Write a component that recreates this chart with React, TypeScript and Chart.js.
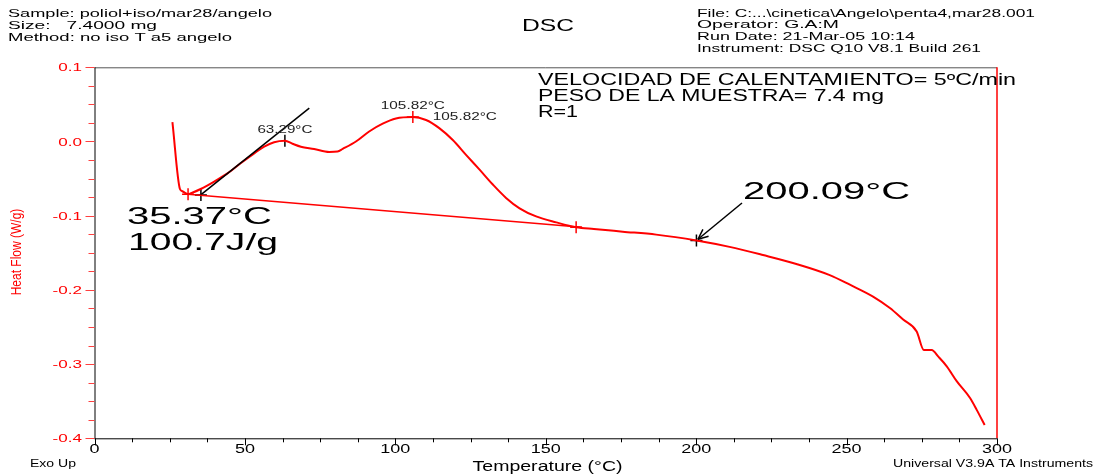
import React, { useEffect, useRef } from "react";
import { Chart, registerables } from "chart.js";

Chart.register(...registerables);

// DSC heating scan: temperature (°C) vs heat flow (W/g)
const temperature = [
  25.9, 28.4, 29.2, 31.1, 32.5, 35.3, 39.8, 44.2, 48.7, 53.1, 56.4, 59.7, 63.3,
  65.8, 68.6, 73.0, 78.0, 80.8, 82.5, 86.9, 91.3, 95.8, 100.2, 105.8, 110.2,
  114.6, 119.1, 123.5, 128.0, 132.4, 136.8, 141.3, 146.8, 153.5, 160.1, 166.0,
  175.6, 186.7, 200.1, 211.1, 222.2, 233.3, 244.4, 251.1, 258.8, 264.4, 268.8,
  273.3, 275.7, 278.3, 280.5, 283.3, 286.6, 291.1, 293.3, 295.9,
];
const heatFlow = [
  0.026, -0.064, -0.067, -0.071, -0.069, -0.064, -0.054, -0.043, -0.029,
  -0.016, -0.007, -0.001, 0.001, -0.003, -0.007, -0.01, -0.014, -0.0135,
  -0.01, 0.0, 0.0135, 0.024, 0.031, 0.033, 0.029, 0.018, 0.002, -0.018,
  -0.038, -0.058, -0.076, -0.09, -0.101, -0.109, -0.1155, -0.118, -0.1215,
  -0.1255, -0.1334, -0.142, -0.153, -0.165, -0.18, -0.193, -0.209, -0.2245,
  -0.24, -0.256, -0.281, -0.281, -0.29, -0.303, -0.323, -0.346, -0.362, -0.382,
];

// Integration baseline (start, end) and onset tangent
const baselineT = [31.1, 162.0];
const baselineHF = [-0.071, -0.1157];
const tangentT = [35.3, 71.4];
const tangentHF = [-0.072, 0.045];

// Analysis marks
const onsetT = 35.37;
const onsetHF = -0.072;
const shoulderT = 63.29;
const shoulderHF = 0.001;
const peakT = 105.82;
const peakHF = 0.033;
const baselineEndT = 160.1;
const baselineEndHF = -0.1155;
const pointT = 200.09;
const pointHF = -0.1334;
const enthalpy = 100.7;

// Axes
const xMin = 0;
const xMax = 300;
const yMin = -0.4;
const yMax = 0.1;
const xTicks = [0, 50, 100, 150, 200, 250, 300];
const yTicks = [0.1, 0.0, -0.1, -0.2, -0.3, -0.4];

const headerLeft = [
  "Sample: poliol+iso/mar28/angelo",
  "Size:   7.4000 mg",
  "Method: no iso T a5 angelo",
];
const headerRight = [
  "File: C:...\\cinetica\\Angelo\\penta4,mar28.001",
  "Operator: G.A:M",
  "Run Date: 21-Mar-05 10:14",
  "Instrument: DSC Q10 V8.1 Build 261",
];
const notes = [
  "VELOCIDAD DE CALENTAMIENTO= 5ºC/min",
  "PESO DE LA MUESTRA= 7.4 mg",
  "R=1",
];

const FONT = '"Liberation Sans", Arial, sans-serif';

type Align = "left" | "center" | "right";

// Text drawn with a horizontal stretch so it fills a given width
function drawText(
  ctx: CanvasRenderingContext2D,
  s: string,
  x: number,
  y: number,
  size: number,
  opts: { w?: number; sx?: number; align?: Align; color?: string } = {}
) {
  ctx.save();
  ctx.font = `${size}px ${FONT}`;
  const m = ctx.measureText(s).width;
  const sx = opts.w ? opts.w / m : opts.sx ?? 1.55;
  const wpx = m * sx;
  let left = x;
  if (opts.align === "center") left = x - wpx / 2;
  else if (opts.align === "right") left = x - wpx;
  ctx.translate(left, y);
  ctx.scale(sx, 1);
  ctx.textAlign = "left";
  ctx.textBaseline = "alphabetic";
  ctx.fillStyle = opts.color ?? "#000";
  ctx.fillText(s, 0, 0);
  ctx.restore();
}

function line(
  ctx: CanvasRenderingContext2D,
  x1: number,
  y1: number,
  x2: number,
  y2: number,
  color: string,
  width = 1
) {
  ctx.beginPath();
  ctx.strokeStyle = color;
  ctx.lineWidth = width;
  ctx.moveTo(x1, y1);
  ctx.lineTo(x2, y2);
  ctx.stroke();
}

const framePlugin = {
  id: "dscFrame",
  beforeDatasetsDraw(chart: any) {
    const { ctx, chartArea: a, scales } = chart;
    const xs = scales.x;
    const ys = scales.y;
    ctx.save();
    // top border and red right border
    line(ctx, a.left, a.top + 0.5, a.right, a.top + 0.5, "#555", 1);
    line(ctx, a.right, a.top, a.right, a.bottom, "#ff0000", 1.5);
    // left axis with red ticks
    line(ctx, a.left + 0.5, a.top, a.left + 0.5, a.bottom, "#000", 1);
    for (let v = yMin; v <= yMax + 1e-9; v += 0.025) {
      const py = Math.round(ys.getPixelForValue(v)) + 0.5;
      const major = Math.abs(v * 10 - Math.round(v * 10)) < 1e-6;
      line(ctx, a.left - (major ? 9 : 6), py, a.left, py, "#ff4040", 1);
    }
    // bottom axis with black ticks
    line(ctx, a.left, a.bottom + 0.5, a.right, a.bottom + 0.5, "#000", 1);
    for (let t = xMin; t <= xMax + 1e-9; t += 12.5) {
      const px = Math.round(xs.getPixelForValue(t)) + 0.5;
      const major = t % 50 === 0;
      line(ctx, px, a.bottom, px, a.bottom + (major ? 7 : 4), "#000", 1);
    }
    ctx.restore();
  },
  afterDraw(chart: any) {
    const { ctx, scales } = chart;
    const xs = scales.x;
    const ys = scales.y;
    ctx.save();

    // tick labels
    yTicks.forEach((v) => {
      const py = ys.getPixelForValue(v);
      drawText(ctx, v.toFixed(1), 82, py + 4, 11, {
        align: "right",
        color: "#ff0000",
        sx: 1.55,
      });
    });
    xTicks.forEach((t) => {
      drawText(ctx, String(t), xs.getPixelForValue(t), 453, 12, {
        align: "center",
        sx: 1.5,
      });
    });

    // axis titles
    drawText(ctx, "Temperature (°C)", 547.5, 471, 14, {
      align: "center",
      w: 150,
    });
    ctx.save();
    ctx.translate(21, 252);
    ctx.rotate(-Math.PI / 2);
    ctx.scale(1, 1.25);
    ctx.font = `12px ${FONT}`;
    ctx.fillStyle = "#ff0000";
    ctx.textAlign = "center";
    ctx.textBaseline = "alphabetic";
    ctx.fillText("Heat Flow (W/g)", 0, 0);
    ctx.restore();
    drawText(ctx, "Exo Up", 30, 467, 10, { w: 46 });
    drawText(ctx, "Universal V3.9A TA Instruments", 1093, 467, 10, {
      align: "right",
      w: 200,
    });

    // header
    drawText(ctx, "DSC", 548, 31, 17, { align: "center", w: 52 });
    const lw = [264, 149, 224];
    headerLeft.forEach((s, i) =>
      drawText(ctx, s, 8, 16.5 + i * 12, 11.5, { w: lw[i] })
    );
    const rw = [338, 142, 218, 284];
    headerRight.forEach((s, i) =>
      drawText(ctx, s, 697, 16.5 + i * 11.7, 11.5, { w: rw[i] })
    );

    // notes inside the plot
    const nw = [478, 346, 40];
    notes.forEach((s, i) =>
      drawText(ctx, s, 538, 85 + i * 16, 16, { w: nw[i] })
    );

    // analysis labels
    drawText(ctx, `${shoulderT.toFixed(2)}°C`, xs.getPixelForValue(shoulderT), 133, 11, {
      align: "center",
      w: 55,
      color: "#222",
    });
    drawText(ctx, `${peakT.toFixed(2)}°C`, xs.getPixelForValue(peakT), 109, 11, {
      align: "center",
      w: 64,
      color: "#222",
    });
    drawText(ctx, `${peakT.toFixed(2)}°C`, xs.getPixelForValue(peakT) + 20, 120, 11, {
      w: 64,
      color: "#222",
    });
    drawText(ctx, `${onsetT.toFixed(2)}°C`, 127, 224, 24, { w: 145 });
    drawText(ctx, `${enthalpy.toFixed(1)}J/g`, 128, 250, 24, { w: 150 });
    drawText(ctx, `${pointT.toFixed(2)}°C`, 743, 199, 24, { w: 167 });

    // arrow to the 200.09 °C mark
    const tx = xs.getPixelForValue(pointT);
    const ty = ys.getPixelForValue(pointHF);
    const sx0 = 742;
    const sy0 = 203;
    const ang = Math.atan2(ty - sy0, tx - sx0);
    const ex = tx - Math.cos(ang) * 2;
    const ey = ty - Math.sin(ang) * 2;
    line(ctx, sx0, sy0, ex, ey, "#000", 1.5);
    const hl = 11;
    const hw = 0.42;
    line(ctx, ex, ey, ex - hl * Math.cos(ang - hw), ey - hl * Math.sin(ang - hw), "#000", 1.5);
    line(ctx, ex, ey, ex - hl * Math.cos(ang + hw), ey - hl * Math.sin(ang + hw), "#000", 1.5);

    ctx.restore();
  },
};

export default function App() {
  const ref = useRef<HTMLCanvasElement | null>(null);

  useEffect(() => {
    if (!ref.current) return;
    const curve = temperature.map((t, i) => ({ x: t, y: heatFlow[i] }));
    const baseline = baselineT.map((t, i) => ({ x: t, y: baselineHF[i] }));
    const tangent = tangentT.map((t, i) => ({ x: t, y: tangentHF[i] }));

    const chart = new Chart(ref.current, {
      type: "scatter",
      data: {
        datasets: [
          {
            data: baseline,
            showLine: true,
            borderColor: "#ff0000",
            borderWidth: 1.5,
            pointRadius: 0,
          },
          {
            data: tangent,
            showLine: true,
            borderColor: "#000",
            borderWidth: 1.5,
            pointRadius: 0,
          },
          {
            data: curve,
            showLine: true,
            borderColor: "#ff0000",
            borderWidth: 2,
            pointRadius: 0,
            cubicInterpolationMode: "monotone",
          },
          {
            // red marks: baseline ends and peak
            data: [
              baseline[0],
              { x: baselineEndT, y: baselineEndHF },
              { x: peakT, y: peakHF },
            ],
            pointStyle: "cross",
            pointRadius: 6,
            pointBorderColor: "#ff0000",
            pointBorderWidth: 1.5,
            showLine: false,
          },
          {
            // black marks: onset and 200.09 °C
            data: [
              { x: onsetT, y: onsetHF },
              { x: pointT, y: pointHF },
            ],
            pointStyle: "cross",
            pointRadius: 6,
            pointBorderColor: "#000",
            pointBorderWidth: 1.5,
            showLine: false,
          },
          {
            data: [{ x: shoulderT, y: shoulderHF }],
            pointStyle: "line",
            rotation: 90,
            pointRadius: 6,
            pointBorderColor: "#000",
            pointBorderWidth: 1.5,
            showLine: false,
          },
        ],
      },
      options: {
        animation: false,
        responsive: false,
        devicePixelRatio: 1,
        layout: {
          padding: { left: 94.5, right: 104, top: 67.3, bottom: 35.7 },
        },
        plugins: {
          legend: { display: false },
          tooltip: { enabled: false },
        },
        scales: {
          x: { type: "linear", min: xMin, max: xMax, display: false },
          y: { type: "linear", min: yMin, max: yMax, display: false },
        },
      },
      plugins: [framePlugin],
    });
    return () => chart.destroy();
  }, []);

  return (
    <div
      style={{
        position: "absolute",
        left: 0,
        top: 0,
        width: 1101,
        height: 474,
        background: "#fff",
      }}
    >
      <canvas ref={ref} width={1101} height={474} />
    </div>
  );
}
